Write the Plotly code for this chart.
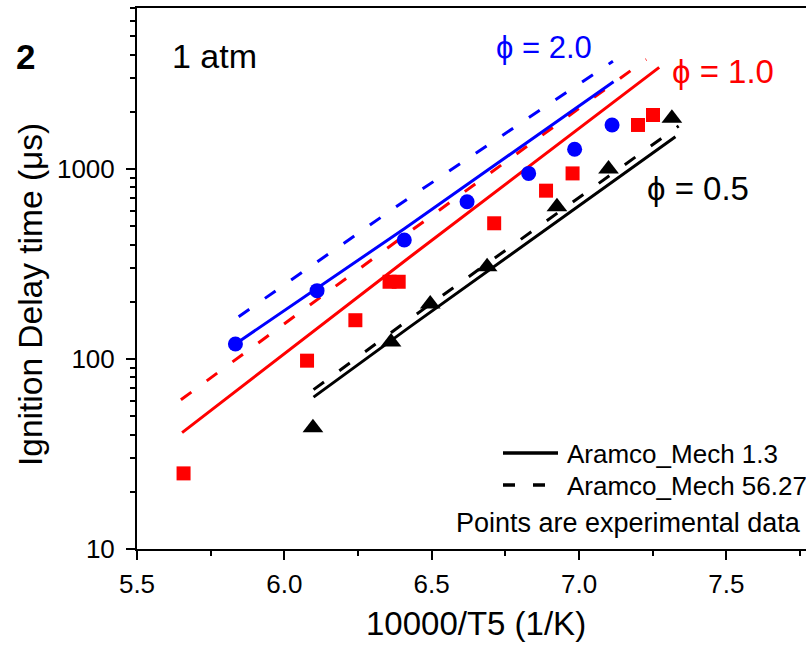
import plotly.graph_objects as go

FONT = "Liberation Sans, Arial, sans-serif"

# ---------------- data ----------------
# experimental points (10000/T5, ignition delay in microseconds)
phi20_x = [5.834, 6.111, 6.407, 6.620, 6.829, 6.985, 7.112]
phi20_y = [120, 229, 423, 673, 948, 1271, 1705]

phi10_x = [5.658, 6.077, 6.241, 6.357, 6.388, 6.712, 6.888, 6.978, 7.200, 7.251]
phi10_y = [25, 98, 160, 255, 255, 518, 769, 948, 1705, 1924]

phi05_x = [6.097, 6.362, 6.495, 6.688, 6.925, 7.100, 7.315]
phi05_y = [43.5, 123, 195, 306, 633, 1000, 1849]

# model curves: Aramco_Mech 1.3 (solid) and Aramco_Mech 56.27 (dashed)
phi20_solid_x = [5.834, 6.407, 7.117]
phi20_solid_y = [120, 485, 2881]
phi20_dash_x = [5.845, 6.393, 7.115]
phi20_dash_y = [167, 655, 3690]

phi10_solid_x = [5.653, 6.427, 7.272]
phi10_solid_y = [41, 345, 3428]
phi10_dash_x = [5.649, 6.410, 7.228]
phi10_dash_y = [61, 449, 3776]

phi05_solid_x = [6.099, 6.427, 7.327]
phi05_solid_y = [63, 148, 1479]
phi05_dash_x = [6.099, 6.405, 7.338]
phi05_dash_y = [69, 154, 1683]

x_tick_vals = [5.5, 6.0, 6.5, 7.0, 7.5]
x_tick_text = ["5.5", "6.0", "6.5", "7.0", "7.5"]
y_tick_vals = [10, 100, 1000]
y_tick_text = ["10", "100", "1000"]
y_minor_vals = [m * d for d in (10, 100, 1000) for m in range(2, 10)]

BLUE, RED, BLACK = "#0000FF", "#FF0000", "#000000"

# ---------------- figure ----------------
W, H = 806, 645
L, R, T, B = 137, 0, 8, 96
PW, PH = W - L - R, H - T - B


def px(xp):
    return (xp - L) / PW


def py(yp):
    return (H - B - yp) / PH


fig = go.Figure()

DASH = "13px,19px"
LW = 3


def add_line(x, y, color, dash):
    fig.add_trace(go.Scatter(x=x, y=y, mode="lines",
                             line=dict(color=color, width=LW, dash=dash),
                             showlegend=False, hoverinfo="skip"))


add_line(phi20_dash_x, phi20_dash_y, BLUE, DASH)
add_line(phi10_dash_x, phi10_dash_y, RED, DASH)
add_line(phi05_dash_x, phi05_dash_y, BLACK, DASH)
add_line(phi20_solid_x, phi20_solid_y, BLUE, "solid")
add_line(phi10_solid_x, phi10_solid_y, RED, "solid")
add_line(phi05_solid_x, phi05_solid_y, BLACK, "solid")

fig.add_trace(go.Scatter(x=phi10_x, y=phi10_y, mode="markers",
                         marker=dict(symbol="square", size=14, color=RED, line=dict(width=0)),
                         showlegend=False))
fig.add_trace(go.Scatter(x=phi20_x, y=phi20_y, mode="markers",
                         marker=dict(symbol="circle", size=15, color=BLUE, line=dict(width=0)),
                         showlegend=False))
fig.add_trace(go.Scatter(x=phi05_x, y=phi05_y, mode="markers",
                         marker=dict(symbol="triangle-up", size=18, color=BLACK, line=dict(width=0)),
                         showlegend=False))

axis_common = dict(showline=True, linecolor="black", linewidth=2, ticks="outside",
                   tickcolor="black", tickwidth=2, ticklen=9, showgrid=False,
                   zeroline=False, tickfont=dict(family=FONT, size=26, color="black"))

fig.update_xaxes(range=[5.5, 5.5 + PW / 294.7], tickmode="array", tickvals=x_tick_vals,
                 ticktext=x_tick_text, mirror=True, ticklabelstandoff=2,
                 minor=dict(ticks="outside", tick0=5.5, dtick=0.25, ticklen=5,
                            tickwidth=2, tickcolor="black", showgrid=False),
                 **axis_common)
fig.update_yaxes(type="log", range=[1, 1 + PH / 190.0], tickmode="array",
                 tickvals=y_tick_vals, ticktext=y_tick_text, ticklabelstandoff=6,
                 minor=dict(ticks="outside", tickvals=y_minor_vals, ticklen=5,
                            tickwidth=2, tickcolor="black", showgrid=False),
                 **axis_common)

ann = []


def text(s, xp, yp, size, color="black", xanchor="left", textangle=0):
    ann.append(dict(text=s, x=px(xp), y=py(yp), xref="paper", yref="paper",
                    xanchor=xanchor, yanchor="middle", showarrow=False,
                    textangle=textangle,
                    font=dict(family=FONT, size=size, color=color)))


text("<b>2</b>", 25, 56, 35, xanchor="center")
text("1 atm", 170, 56, 34)
text("ϕ = 2.0", 494, 47, 31, BLUE)
text("ϕ = 1.0", 670, 71, 33, RED)
text("ϕ = 0.5", 645, 188, 33, BLACK)
text("Aramco_Mech 1.3", 565, 454, 26)
text("Aramco_Mech 56.27", 565, 486, 26)
text("Points are experimental data", 803, 523, 27, xanchor="right")
text("10000/T5 (1/K)", 476, 623, 33, xanchor="center")
text("Ignition Delay time (μs)", 30, 295, 33.5, xanchor="center", textangle=-90)

shapes = [
    dict(type="line", xref="paper", yref="paper", x0=px(503), x1=px(558), y0=py(453), y1=py(453),
         line=dict(color="black", width=3.5)),
    dict(type="line", xref="paper", yref="paper", x0=px(503), x1=px(546), y0=py(485), y1=py(485),
         line=dict(color="black", width=3.5, dash="12px,18px")),
]

fig.update_layout(width=W, height=H, margin=dict(l=L, r=R, t=T, b=B, pad=0),
                  plot_bgcolor="white", paper_bgcolor="white",
                  annotations=ann, shapes=shapes, showlegend=False)

fig.write_html("out.html", config={"displayModeBar": False},
               post_script="document.body.style.margin='0';document.body.style.overflow='hidden';")
